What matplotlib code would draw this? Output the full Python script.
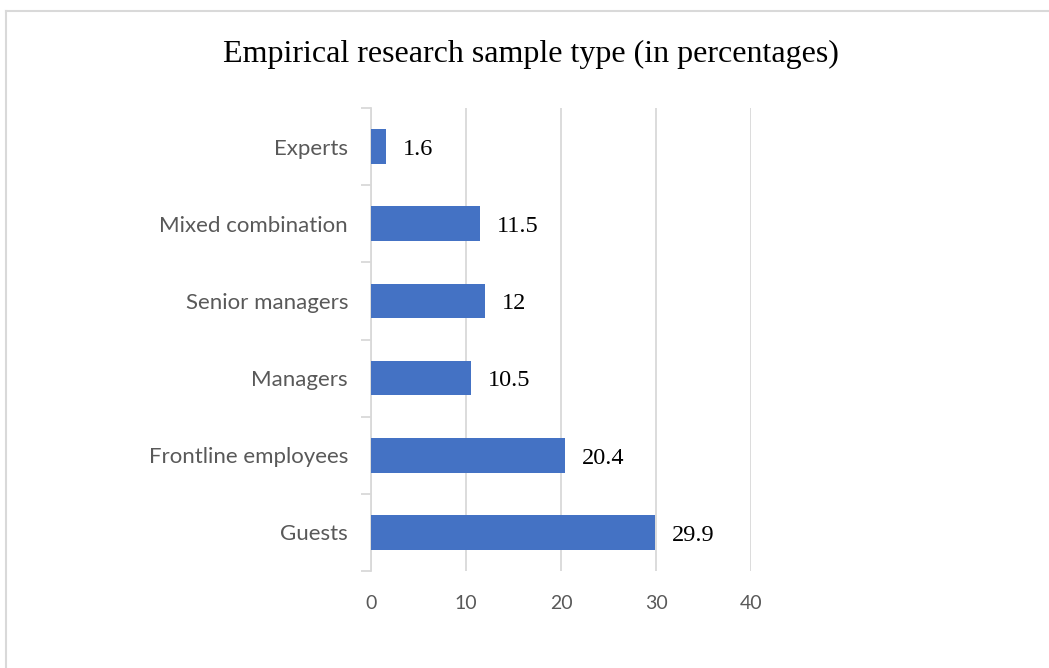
import matplotlib.pyplot as plt
from matplotlib.lines import Line2D

# sample types, bottom to top
categories = ['Guests', 'Frontline employees', 'Managers', 'Senior managers',
              'Mixed combination', 'Experts']
values = [29.9, 20.4, 10.5, 12, 11.5, 1.6]
x_ticks = [0, 10, 20, 30, 40]

grid_col = '#d9d9d9'
text_col = '#595959'

fig = plt.figure(figsize=(10.49, 6.68), dpi=100)
ax = fig.add_axes([0.3537, 0.1452, 0.3623, 0.6931])

pos = list(range(len(categories)))
bars = ax.barh(pos, values, height=0.45, color='#4472C4', zorder=3)

for b, v in zip(bars, values):
    ax.annotate(f'{v:g}', (b.get_width(), b.get_y() + b.get_height() / 2),
                xytext=(12, -2), textcoords='offset points', va='center', ha='left',
                fontsize=17.5, family='Liberation Serif', color='black')

ax.set_xlim(0, 40)
ax.set_ylim(-0.5, len(categories) - 0.5)
ax.set_xticks(x_ticks)
ax.set_yticks(pos)
ax.set_yticklabels(categories)
ax.set_yticks([p - 0.5 for p in range(len(categories) + 1)], minor=True)

ax.xaxis.grid(True, color=grid_col, linewidth=1.3, zorder=0)
ax.tick_params(axis='x', length=0, pad=17, labelsize=14, labelcolor=text_col)
ax.tick_params(axis='y', which='major', length=0, pad=16.5, labelsize=16, labelcolor=text_col)
ax.tick_params(axis='y', which='minor', length=7, width=1.3, color=grid_col)
for lbl in ax.get_xticklabels() + ax.get_yticklabels():
    lbl.set_family('Lato')

for s in ['top', 'right', 'bottom']:
    ax.spines[s].set_visible(False)
ax.spines['left'].set_color(grid_col)
ax.spines['left'].set_linewidth(1.3)

fig.text(0.506, 0.918, 'Empirical research sample type (in percentages)',
         ha='center', va='center', fontsize=23, family='Liberation Serif', color='black')

# chart frame
fig.add_artist(Line2D([0.006, 1.0], [0.984, 0.984], color=grid_col, linewidth=1.5))
fig.add_artist(Line2D([0.006, 0.006], [0.0, 0.984], color=grid_col, linewidth=1.5))

fig.savefig('out.png', dpi=100)
